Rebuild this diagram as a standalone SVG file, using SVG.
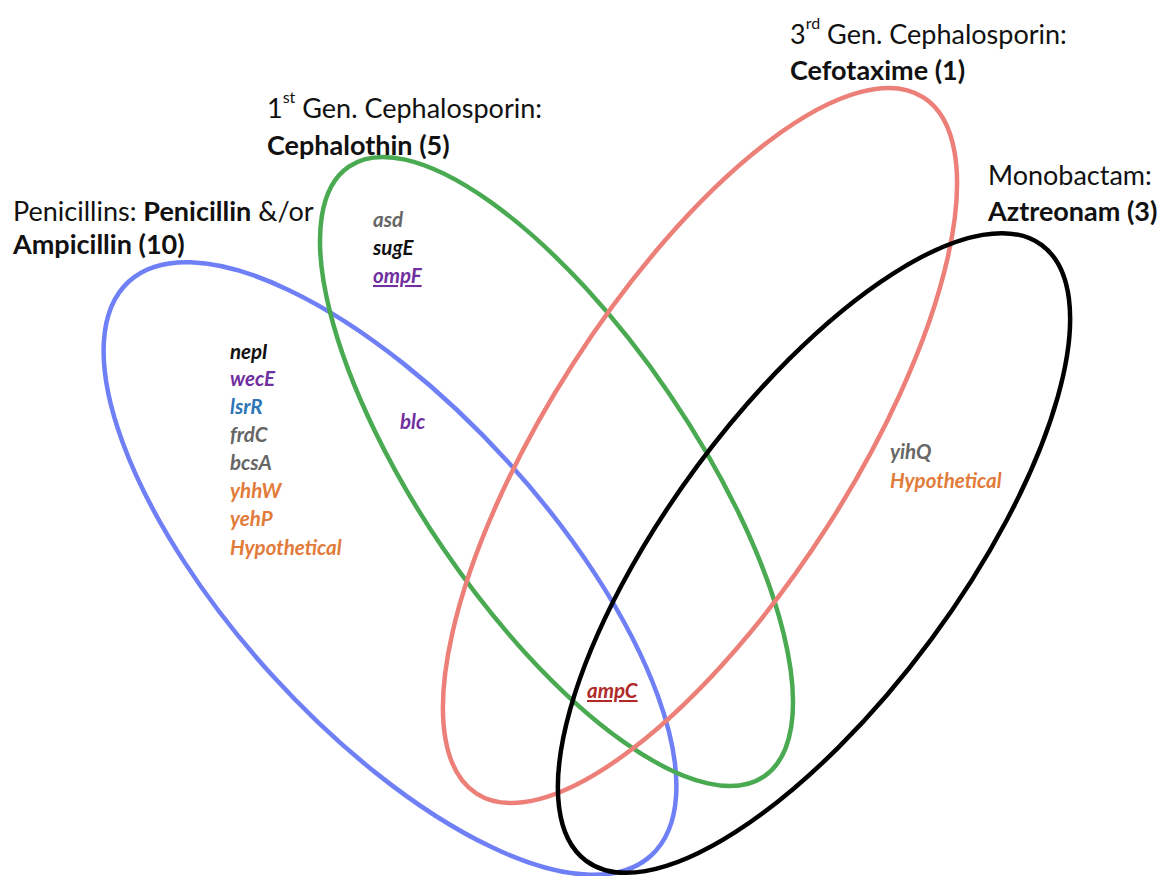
<svg xmlns="http://www.w3.org/2000/svg" width="1164" height="876" viewBox="0 0 1164 876">
<style>
.set{fill:none;stroke-width:4.5}
.title{font-family:Lato,"Liberation Sans",sans-serif;font-size:27px;fill:#111}
.b{font-weight:bold}
.sup{font-size:16px}
.gene{font-family:Lato,"Liberation Sans",sans-serif;font-size:20.5px;font-style:italic;font-weight:bold}
.k{fill:#111}.p{fill:#7030a0}.bl{fill:#2e75b6}.g{fill:#666666}.o{fill:#e27b3a}.r{fill:#b02a2a}
</style>
<rect width="1164" height="876" fill="#ffffff"/>
<g id="sets">
<ellipse id="set-penicillins" class="set" stroke="#6f7ff6" cx="390" cy="568.5" rx="388" ry="159" transform="rotate(47.7 390 568.5)"/>
<ellipse id="set-cephalothin" class="set" stroke="#4aaa52" cx="556.5" cy="471.5" rx="368.9" ry="137" transform="rotate(55.75 556.5 471.5)"/>
<ellipse id="set-cefotaxime" class="set" stroke="#ec8079" cx="700" cy="445.5" rx="413.6" ry="151" transform="rotate(-57.3 700 445.5)"/>
<ellipse id="set-aztreonam" class="set" stroke="#000000" cx="814" cy="553" rx="383" ry="145.6" transform="rotate(-53.5 814 553)"/>
</g>
<g id="label-penicillins">
<text class="title" x="13" y="221">Penicillins: <tspan class="b">Penicillin</tspan> &amp;/or</text>
<text class="title b" x="13" y="254">Ampicillin (10)</text>
</g>
<g id="label-cephalothin">
<text class="title" x="267" y="118">1<tspan class="sup" dy="-15">st</tspan><tspan dy="15"> Gen. Cephalosporin:</tspan></text>
<text class="title b" x="267" y="155">Cephalothin (5)</text>
</g>
<g id="label-cefotaxime">
<text class="title" x="790" y="44">3<tspan class="sup" dy="-15">rd</tspan><tspan dy="15"> Gen. Cephalosporin:</tspan></text>
<text class="title b" x="790" y="80">Cefotaxime (1)</text>
</g>
<g id="label-aztreonam">
<text class="title" x="988" y="185">Monobactam:</text>
<text class="title b" x="988" y="221">Aztreonam (3)</text>
</g>
<g id="genes-penicillin-only">
<text class="gene k" x="230" y="359">nepI</text>
<text class="gene p" x="230" y="386">wecE</text>
<text class="gene bl" x="230" y="414">lsrR</text>
<text class="gene g" x="230" y="442">frdC</text>
<text class="gene g" x="230" y="470">bcsA</text>
<text class="gene o" x="230" y="498">yhhW</text>
<text class="gene o" x="230" y="526">yehP</text>
<text class="gene o" x="230" y="555">Hypothetical</text>
</g>
<g id="genes-cephalothin-only">
<text class="gene g" x="373" y="227">asd</text>
<text class="gene k" x="373" y="255">sugE</text>
<text class="gene p" x="373" y="283" text-decoration="underline">ompF</text>
</g>
<g id="genes-pen-ceph">
<text class="gene p" x="400" y="429">blc</text>
</g>
<g id="genes-aztreonam-only">
<text class="gene g" x="890" y="459">yihQ</text>
<text class="gene o" x="890" y="488">Hypothetical</text>
</g>
<g id="genes-all">
<text class="gene r" x="587" y="698" text-decoration="underline">ampC</text>
</g>
</svg>
